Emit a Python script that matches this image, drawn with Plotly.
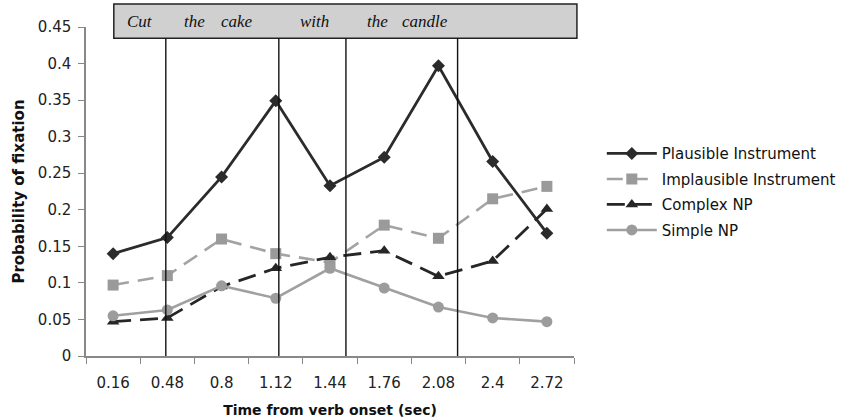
import plotly.graph_objects as go

# ---- data ----
times = ["0.16", "0.48", "0.8", "1.12", "1.44", "1.76", "2.08", "2.4", "2.72"]
plausible = [0.140, 0.162, 0.245, 0.349, 0.233, 0.272, 0.397, 0.266, 0.168]
implausible = [0.097, 0.110, 0.160, 0.140, 0.128, 0.179, 0.161, 0.215, 0.232]
complex_np = [0.047, 0.052, 0.095, 0.120, 0.135, 0.144, 0.109, 0.130, 0.201]
simple_np = [0.055, 0.063, 0.096, 0.079, 0.120, 0.093, 0.067, 0.052, 0.047]

# word labels of the sentence and the boundaries (in seconds) between regions
words = ["Cut", "the", "cake", "with", "the", "candle"]
word_times = [0.32, 0.64, 0.89, 1.35, 1.72, 2.00]
boundary_times = [0.471, 1.138, 1.534, 2.193]

t0, dt = 0.16, 0.32
def to_idx(t):
    return (t - t0) / dt

fig = go.Figure()
fig.add_trace(go.Scatter(x=times, y=plausible, name="Plausible Instrument", mode="lines+markers",
                         legendgroup="a",
                         line=dict(color="#2b2b2b", width=2.8),
                         marker=dict(symbol="diamond", size=10, color="#2b2b2b")))
fig.add_trace(go.Scatter(x=times, y=implausible, name="Implausible Instrument", mode="lines+markers",
                         legendgroup="b",
                         line=dict(color="#a3a3a3", width=2.6, dash="16px,9px"),
                         marker=dict(symbol="square", size=11, color="#9a9a9a")))
fig.add_trace(go.Scatter(x=times, y=complex_np, name="Complex NP", mode="lines+markers",
                         legendgroup="c",
                         line=dict(color="#262626", width=2.8, dash="18px,9px"),
                         marker=dict(symbol="triangle-up", size=11, color="#262626")))
fig.add_trace(go.Scatter(x=times, y=simple_np, name="Simple NP", mode="lines+markers",
                         legendgroup="d",
                         line=dict(color="#a0a0a0", width=2.6),
                         marker=dict(symbol="circle", size=11, color="#9c9c9c")))

shapes = []
# sentence box
shapes.append(dict(type="rect", xref="paper", yref="paper", x0=0.057, x1=1.006, y0=0.966, y1=1.070,
                   fillcolor="#d0d0d0", line=dict(color="#222222", width=1.5), layer="above"))
for bt in boundary_times:
    shapes.append(dict(type="line", xref="x", yref="paper", x0=to_idx(bt), x1=to_idx(bt), y0=0, y1=0.966,
                       line=dict(color="#111111", width=1.4), layer="above"))

annotations = []
for w, wt in zip(words, word_times):
    annotations.append(dict(x=to_idx(wt), y=1.018, xref="x", yref="paper", text=w, showarrow=False,
                            font=dict(family="Liberation Serif", size=17, color="#111111", style="italic"),
                            xanchor="center", yanchor="middle"))

fig.update_layout(
    width=844, height=418,
    margin=dict(l=86, r=270, t=27, b=62, autoexpand=False),
    paper_bgcolor="white", plot_bgcolor="white",
    font=dict(family="DejaVu Sans", size=15, color="#222222"),
    showlegend=True,
    legend=dict(x=1.057, y=0.665, xanchor="left", yanchor="top",
                font=dict(family="DejaVu Sans", size=15, color="#111111"),
                tracegroupgap=3, itemwidth=50, bgcolor="rgba(0,0,0,0)"),
    shapes=shapes,
    annotations=annotations,
)
fig.update_xaxes(type="category", range=[-0.5, 8.5], tickson="boundaries", ticks="outside", ticklen=6,
                 tickcolor="#888888", showline=True, linecolor="#888888", linewidth=1.5,
                 showgrid=False, zeroline=False, ticklabelstandoff=12, automargin=False,
                 tickfont=dict(family="DejaVu Sans", size=15, color="#222222"),
                 title=dict(text="<b>Time from verb onset (sec)</b>", standoff=14,
                            font=dict(family="DejaVu Sans", size=14, color="#111111")))
fig.update_yaxes(range=[0, 0.45], tickvals=[0, 0.05, 0.1, 0.15, 0.2, 0.25, 0.3, 0.35, 0.4, 0.45],
                 ticktext=["0", "0.05", "0.1", "0.15", "0.2", "0.25", "0.3", "0.35", "0.4", "0.45"],
                 ticks="outside", ticklen=6, tickcolor="#888888", showline=True, linecolor="#888888",
                 linewidth=1.5, showgrid=False, zeroline=False, ticklabelstandoff=4, automargin=False,
                 tickfont=dict(family="DejaVu Sans", size=15, color="#222222"),
                 title=dict(text="<b>Probability of fixation</b>", standoff=10,
                            font=dict(family="DejaVu Sans", size=15, color="#111111")))

fig.write_html("out.html", config={"displayModeBar": False},
               post_script="document.body.style.margin='0';")
